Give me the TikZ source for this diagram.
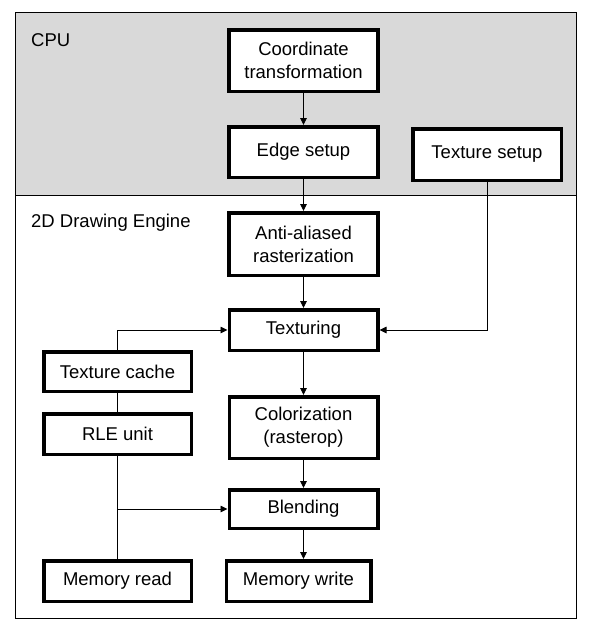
\documentclass[tikz,border=0pt]{standalone}
\usepackage{fontspec}
\setmainfont{Liberation Sans}
\usetikzlibrary{positioning,arrows.meta}

\begin{document}
\begin{tikzpicture}[x=1pt,y=-1pt,
                    thin line/.style={line width=0.9pt},
                    flow/.style={thin line,-{Triangle[length=7pt,width=6.5pt]}},
                    main node/.style={rectangle,draw,fill=white,line width=3.5pt,inner sep=0pt,
                      minimum width=149pt,align=center,font=\fontsize{18.5}{23}\selectfont}]

 \useasboundingbox (0,0) rectangle (598,635);

 % frames
 \fill[black!15] (15,12) rectangle (576,195);
 \draw[thin line] (15,12) rectangle (576,618);
 \draw[thin line] (15,195) -- (576,195);
 \node[anchor=base west,inner sep=0pt,font=\fontsize{18.5}{23}\selectfont] (cpu) at (31,46) {CPU};
 \node[anchor=base west,inner sep=0pt,font=\fontsize{18.5}{23}\selectfont] (engine) at (31,227) {2D Drawing Engine};

 % main column
 \node[main node,minimum height=61.5pt] (coord) at (303.5,60.5) {Coordinate\\transformation};
 \node[main node,minimum height=50.5pt] (esetup) [below=32pt of coord] {Edge setup};
 \node[main node,minimum height=62.5pt] (raster) [below=32pt of esetup] {Anti-aliased\\rasterization};
 \node[main node,minimum height=40.5pt,minimum width=148.5pt] (tex) [below=31pt of raster] {Texturing};
 \node[main node,minimum height=61.5pt,minimum width=148.5pt] (color) [below=43pt of tex] {Colorization\\(rasterop)};
 \node[main node,minimum height=38.5pt,minimum width=148.5pt] (blend) [below=28pt of color] {Blending};
 \node[main node,minimum height=40.5pt,minimum width=144.5pt] (mwrite) [below=29pt of blend,xshift=-5pt] {Memory write};

 % side boxes
 \node[main node,minimum height=51.5pt,minimum width=148.5pt] (tsetup) at (487,154.5) {Texture setup};
 \node[main node,minimum height=39.5pt,minimum width=147.5pt] (tcache) at (117.5,371.5) {Texture cache};
 \node[main node,minimum height=40.5pt,minimum width=147.5pt] (rle) at (117.5,434) {RLE unit};
 \node[main node,minimum height=40.5pt,minimum width=147.5pt] (mread) at (117.5,581) {Memory read};

 \path[flow]
 (coord) edge (esetup)
 (esetup) edge (raster)
 (raster) edge (tex)
 (tex) edge (color)
 (color) edge (blend);
 \draw[flow] (blend.south) -- (blend.south |- mwrite.north);

 \coordinate (split) at (rle.south |- blend.west);
 \draw[flow] (tcache.north) |- (tex.west);
 \draw[flow] (tsetup.south) |- (tex.east);
 \draw[thin line] (tcache.south) -- (rle.north);
 \draw[thin line] (rle.south) -- (mread.north);
 \draw[flow] (split) -- (blend.west);

\end{tikzpicture}
\end{document}
